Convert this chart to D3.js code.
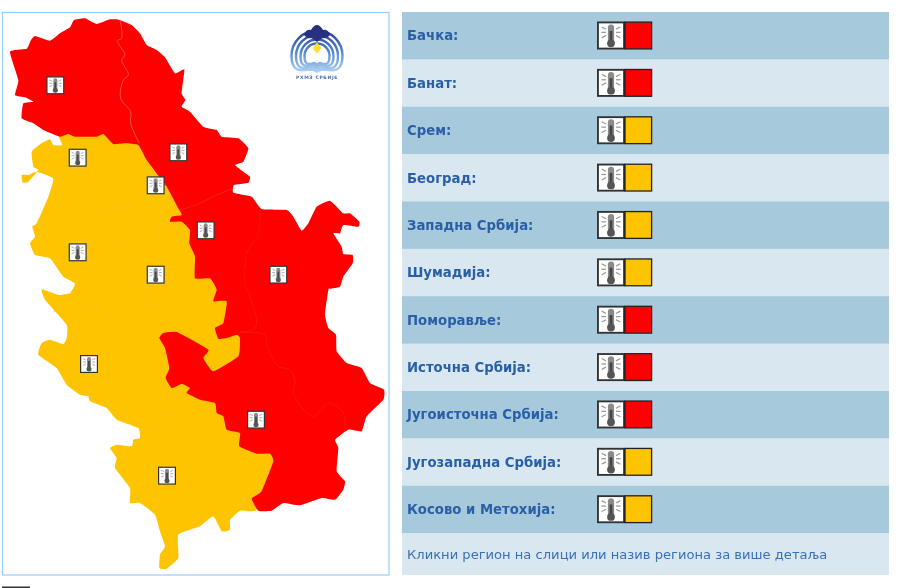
<!DOCTYPE html>
<html><head><meta charset="utf-8">
<script src="https://cdn.jsdelivr.net/npm/d3@7"></script>
<style>html,body{margin:0;padding:0;background:#fff}svg{display:block}</style>
</head><body><svg id="c" width="900" height="588"></svg>
<script>
// Regions and warning levels
const regionNames = ["Бачка:","Банат:","Срем:","Београд:","Западна Србија:","Шумадија:","Поморавље:","Источна Србија:","Југоисточна Србија:","Југозападна Србија:","Косово и Метохија:"];
const regionLevels = ["red","red","orange","orange","orange","orange","red","red","red","orange","orange"];
const footerText = "Кликни регион на слици или назив региона за више детаља";
const levelColors = {red:"#ff0000",orange:"#ffc400"};
const rowShades = ["#a6c9dc","#d9e8f0"];
// Map icon places (3x sheet units)
const iconPlaces = [[166,256],[233,473],[467,556],[233,757],[467,824],[535,457],[617,691],[835,824],[267,1092],[768,1259],[501,1427]];
// Traced outlines: "N" lists are measured on the upper sheet, "S" lists on the lower sheet (offset 864)
const redN1 = [[30,155],[80,146],[92,122],[105,108],[150,122],[180,100],[210,82],[222,60],[255,55],[290,72],[330,58],[350,58],[365,62],[395,75],[420,100],[440,135],[470,150],[495,172],[525,220],[553,208],[545,280],[556,300],[545,320],[570,335],[610,380],[650,390],[665,410],[715,415],[745,445],[730,485],[705,495],[730,515],[750,530],[745,548],[702,555],[700,578],[755,590],[785,627],[860,630],[880,650],[905,692],[925,670],[950,620],[990,602],[1030,640],[1050,640],[1078,665],[1075,680],[1030,675],[1020,700],[1000,700],[1025,740],[1030,762],[1058,765],[1058,790],[1030,830],[1020,860],[990,866]];
const redS = [[985,5],[975,80],[985,120],[1008,140],[1010,190],[1040,225],[1085,240],[1110,285],[1152,305],[1150,335],[1100,385],[1085,430],[1045,425],[1005,455],[1015,480],[1010,550],[1035,580],[1030,605],[1005,635],[965,630],[900,652],[850,645],[815,668],[775,668],[755,632],[785,610],[820,520],[810,497],[770,497],[718,475],[720,435],[680,425],[670,385],[650,375],[645,345],[600,335],[560,315],[570,300],[545,287],[515,300],[497,270],[508,240],[495,180],[478,150],[490,135],[530,132],[625,185],[610,210],[640,250],[715,205],[720,150],[710,140],[680,150],[655,152],[645,120],[670,105],[680,40],[640,40],[650,5]];
const redN2 = [[630,835],[585,835],[585,770],[568,730],[570,690],[545,665],[510,665],[515,650],[545,645],[535,625],[500,560],[440,480],[415,435],[375,430],[340,432],[310,402],[290,410],[225,410],[205,402],[180,410],[130,390],[100,370],[65,355],[70,310],[100,305],[75,292],[45,285],[55,240]];
const amberN = [[175,405],[187,435],[160,435],[150,418],[125,430],[95,455],[100,500],[115,510],[85,545],[68,548],[65,525],[85,525],[110,515],[160,535],[145,590],[110,670],[97,680],[105,710],[90,730],[105,765],[150,775],[190,830],[225,850],[210,880],[175,885],[125,868]];
const amberS = [[135,35],[200,110],[200,150],[190,168],[150,155],[125,165],[115,200],[170,240],[200,290],[240,320],[265,325],[270,340],[320,360],[350,395],[415,420],[420,450],[400,455],[395,475],[350,470],[330,480],[350,510],[345,540],[390,600],[390,645],[420,645],[465,680],[480,730],[495,775],[480,800],[478,840],[500,842],[535,810],[535,740],[600,715],[640,685],[665,730],[690,725],[690,695],[720,668],[750,670],[775,660],[830,500],[690,400],[680,340],[660,280],[730,215],[735,140],[695,40],[660,0]];
const amberBack = [[660,860],[600,720],[560,640],[460,470],[420,420],[320,395],[205,390]];
// Faint inner borders
const redLinesN = [[[360,60],[365,115],[352,122],[375,165],[365,180],[385,225],[370,240],[362,295],[392,335],[392,370],[418,430]],[[540,630],[600,610],[650,585],[700,565]]];
const redEast = [[780,625],[775,700],[740,760],[735,864]];
const redLinesS = [[[740,0],[770,100],[760,125],[715,133],[795,140],[800,170],[835,235],[870,245],[885,280],[880,315],[940,385],[985,345],[1030,375],[1035,420]]];
const amberLinesN = [[[415,460],[435,490],[435,530],[415,590],[415,650],[450,680],[460,705],[510,670]],[[160,535],[210,505],[260,530],[255,585],[315,640],[385,615],[415,630]],[[385,615],[400,680],[380,735],[400,790],[430,865]],[[415,590],[500,560]]];
const amberLinesS = [[[430,0],[440,50],[385,40],[330,80],[290,60],[200,60],[160,70]],[[440,50],[520,110]],[[495,310],[515,350],[490,395],[440,445],[420,450]]];

const SHEET_OFFSET = 864;
const down = a => a.map(([x,y]) => [x,y+SHEET_OFFSET]);
const svg = d3.select("#c");
const sx = d3.scaleLinear().domain([0,1200]).range([0,400]);
const sy = d3.scaleLinear().domain([0,1200]).range([0,400]);
const closed = d3.line().x(d=>sx(d[0])).y(d=>sy(d[1])).curve(d3.curveCardinalClosed.tension(0.6));
const open = d3.line().x(d=>sx(d[0])).y(d=>sy(d[1])).curve(d3.curveCatmullRom.alpha(0.5));

const defs = svg.append("defs");
const gr = defs.append("linearGradient").attr("id","lg").attr("gradientUnits","userSpaceOnUse").attr("x1",0).attr("x2",0).attr("y1",-22).attr("y2",24);
gr.append("stop").attr("offset",0).attr("stop-color","#27358c");
gr.append("stop").attr("offset",.5).attr("stop-color","#4f86cf");
gr.append("stop").attr("offset",1).attr("stop-color","#b8daf6");
defs.append("filter").attr("id","soft").append("feGaussianBlur").attr("stdDeviation",0.5);
defs.append("filter").attr("id","softText").append("feGaussianBlur").attr("stdDeviation",0.3);

// map frame
svg.append("rect").attr("x",2.5).attr("y",12.5).attr("width",386.5).attr("height",562.5).attr("fill","#fff").attr("stroke","#96cdfa").attr("stroke-width",1.2);

const map = svg.append("g").attr("filter","url(#soft)");
map.append("path").attr("d",closed(amberN.concat(down(amberS),amberBack))).attr("fill",levelColors.orange);
map.append("path").attr("d",closed(redN1.concat(down(redS),redN2))).attr("fill",levelColors.red);
const lines = [
 [redLinesN[0],"#ee5a50"],[redLinesN[1],"#f5251a"], [redEast,"#f6140a"], ...redLinesS.map(l=>[down(l),"#f3180e"]),
 ...amberLinesN.map(l=>[l,"#f7c41c"]), ...amberLinesS.map(l=>[down(l),"#f7c41c"])];
map.selectAll("path.b").data(lines).join("path").attr("class","b").attr("d",d=>open(d[0]))
  .attr("fill","none").attr("stroke",d=>d[1]).attr("stroke-width",.9);

// Thermometer symbol, local units 0..18
function thermo(g,size,border){
  const k=size/18;
  const t=g.append("g").attr("transform",`scale(${k})`);
  t.append("rect").attr("x",.6).attr("y",.6).attr("width",16.8).attr("height",16.8).attr("fill","#fff").attr("stroke",border).attr("stroke-width",1.2);
  const rays=[[3,3.5,5.8,5],[2.8,7,5.8,7],[3,10.5,5.8,9],[15,3.5,12.2,5],[15.2,7,12.2,7],[15,10.5,12.2,9]];
  t.selectAll("line").data(rays).join("line").attr("x1",d=>d[0]).attr("y1",d=>d[1]).attr("x2",d=>d[2]).attr("y2",d=>d[3]).attr("stroke","#999").attr("stroke-width",.8);
  t.append("rect").attr("x",7).attr("y",2).attr("width",4).attr("height",12).attr("rx",2).attr("fill","#8a8a8a");
  t.append("rect").attr("x",8.1).attr("y",6).attr("width",1.8).attr("height",8).attr("fill","#444");
  t.append("circle").attr("cx",9).attr("cy",14).attr("r",2.5).attr("fill","#555");
}
const iconSize=18;
svg.append("g").attr("filter","url(#softText)").selectAll("g").data(iconPlaces).join("g")
  .attr("transform",d=>`translate(${sx(d[0])-iconSize/2},${sy(d[1])-iconSize/2})`)
  .each(function(){thermo(d3.select(this),iconSize,"#333");});

// Logo
const logo = svg.append("g").attr("transform","translate(317,50)").attr("filter","url(#softText)");
[25.5,21,16.5,12.5].forEach(r=>{
  const w=6+r*.5;
  logo.append("path").attr("d",`M${-r},6 A${r},${r} 0 0 1 ${r},6 C${r},${w+4} ${r*.6},${w+2} ${r*.3},${w+1} Q${r*.15},${w} 0,${w+3} Q${-r*.15},${w} ${-r*.3},${w+1} C${-r*.6},${w+2} ${-r},${w+4} ${-r},6`)
   .attr("fill","none").attr("stroke","url(#lg)").attr("stroke-width",2.4);
});
logo.append("path").attr("d","M-13,-15 Q-11,-21 -6,-20 Q-3,-25 0,-25 Q3,-25 6,-20 Q11,-21 13,-15 Q10,-11 6,-12 Q3,-11 0,-8 Q-3,-11 -6,-12 Q-10,-11 -13,-15Z").attr("fill","#27307f");
logo.append("path").attr("d","M0,-7.5 L4.5,-2 L0,3.5 L-4.5,-2Z").attr("fill","#ffe033");
logo.append("text").attr("x",0).attr("y",29).attr("text-anchor","middle").attr("font-family","DejaVu Sans").attr("font-size",4.6).attr("font-weight","bold").attr("fill","#4a6fa8").attr("letter-spacing",.6).text("РХМЗ СРБИЈЕ");

// Table
const rowTop = 12, rowStep = 47.37, rowX = 402, rowW = 487;
const y = d3.scaleBand().domain(d3.range(regionNames.length)).range([rowTop,rowTop+rowStep*regionNames.length]);
const rows = svg.append("g").selectAll("g").data(regionNames).join("g").attr("transform",(d,i)=>`translate(0,${y(i)})`);
rows.append("rect").attr("x",rowX).attr("width",rowW).attr("height",y.bandwidth()+.5).attr("fill",(d,i)=>rowShades[i%2]);
rows.append("text").attr("x",407).attr("y",y.bandwidth()/2+4.8).attr("font-family","DejaVu Sans").attr("font-weight","bold").attr("font-size",13.25).attr("fill","#2a5fa8").attr("filter","url(#softText)").text(d=>d);
rows.each(function(d,i){
  const g=d3.select(this).append("g").attr("transform","translate(597,9.5)").attr("filter","url(#softText)");
  thermo(g.append("g"),28,"#333");
  g.append("rect").attr("x",28).attr("y",.6).attr("width",26.6).attr("height",26.8).attr("fill",levelColors[regionLevels[i]]).attr("stroke","#222").attr("stroke-width",1.3);
});
const fy=y(regionNames.length-1)+rowStep;
svg.append("rect").attr("x",rowX).attr("y",fy).attr("width",rowW).attr("height",575-fy).attr("fill",rowShades[1]);
svg.append("text").attr("x",407).attr("y",559).attr("font-family","DejaVu Sans").attr("font-size",13.1).attr("fill","#3a6fb5").attr("filter","url(#softText)").text(footerText);
svg.append("rect").attr("x",2).attr("y",586.5).attr("width",28).attr("height",2).attr("fill","#333");
</script></body></html>
